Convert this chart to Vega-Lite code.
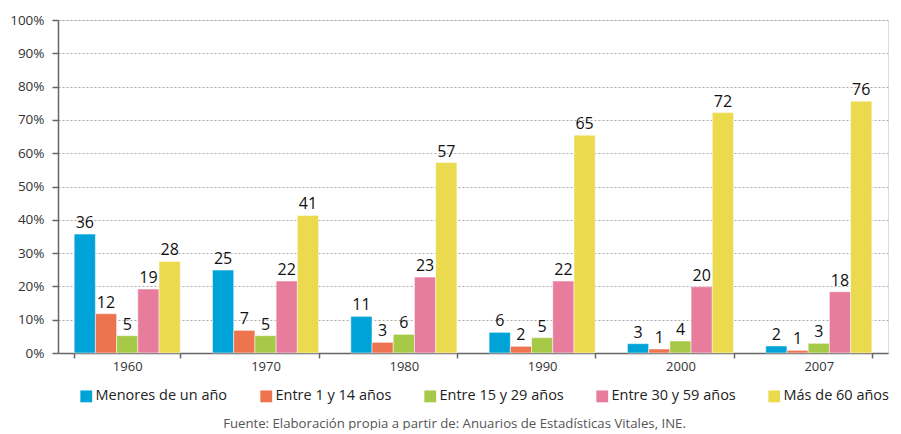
{
  "$schema": "https://vega.github.io/schema/vega-lite/v6.json",
  "width": 830,
  "height": 333,
  "autosize": {"type": "pad"},
  "padding": {"left": 9, "top": 13, "right": 0, "bottom": 0},
  "background": "white",
  "data": {
    "values": [
      {"year": "1960", "grupo": "Menores de un año", "valor": 35.7},
      {"year": "1960", "grupo": "Entre 1 y 14 años", "valor": 11.8},
      {"year": "1960", "grupo": "Entre 15 y 29 años", "valor": 5.2},
      {"year": "1960", "grupo": "Entre 30 y 59 años", "valor": 19.2},
      {"year": "1960", "grupo": "Más de 60 años", "valor": 27.5},
      {"year": "1970", "grupo": "Menores de un año", "valor": 24.9},
      {"year": "1970", "grupo": "Entre 1 y 14 años", "valor": 6.8},
      {"year": "1970", "grupo": "Entre 15 y 29 años", "valor": 5.2},
      {"year": "1970", "grupo": "Entre 30 y 59 años", "valor": 21.6},
      {"year": "1970", "grupo": "Más de 60 años", "valor": 41.3},
      {"year": "1980", "grupo": "Menores de un año", "valor": 11.0},
      {"year": "1980", "grupo": "Entre 1 y 14 años", "valor": 3.2},
      {"year": "1980", "grupo": "Entre 15 y 29 años", "valor": 5.6},
      {"year": "1980", "grupo": "Entre 30 y 59 años", "valor": 22.8},
      {"year": "1980", "grupo": "Más de 60 años", "valor": 57.2},
      {"year": "1990", "grupo": "Menores de un año", "valor": 6.2},
      {"year": "1990", "grupo": "Entre 1 y 14 años", "valor": 2.0},
      {"year": "1990", "grupo": "Entre 15 y 29 años", "valor": 4.6},
      {"year": "1990", "grupo": "Entre 30 y 59 años", "valor": 21.6},
      {"year": "1990", "grupo": "Más de 60 años", "valor": 65.4},
      {"year": "2000", "grupo": "Menores de un año", "valor": 2.8},
      {"year": "2000", "grupo": "Entre 1 y 14 años", "valor": 1.2},
      {"year": "2000", "grupo": "Entre 15 y 29 años", "valor": 3.6},
      {"year": "2000", "grupo": "Entre 30 y 59 años", "valor": 19.9},
      {"year": "2000", "grupo": "Más de 60 años", "valor": 72.2},
      {"year": "2007", "grupo": "Menores de un año", "valor": 2.1},
      {"year": "2007", "grupo": "Entre 1 y 14 años", "valor": 0.8},
      {"year": "2007", "grupo": "Entre 15 y 29 años", "valor": 2.9},
      {"year": "2007", "grupo": "Entre 30 y 59 años", "valor": 18.4},
      {"year": "2007", "grupo": "Más de 60 años", "valor": 75.6}
    ]
  },
  "encoding": {
    "x": {
      "field": "year",
      "type": "nominal",
      "scale": {"paddingInner": 0.233, "paddingOuter": 0.117},
      "axis": {
        "title": "Fuente: Elaboración propia a partir de: Anuarios de Estadísticas Vitales, INE.",
        "titleFont": "Open Sans",
        "titleFontSize": 13.2,
        "titleFontWeight": "normal",
        "titleColor": "#555555",
        "titlePadding": 44,
        "titleAlign": "center",
        "titleX": 396,
        "labelAngle": 0,
        "labelFont": "Open Sans",
        "labelFontSize": 13,
        "labelColor": "#333333",
        "labelPadding": 2,
        "domainColor": "#666666",
        "domainWidth": 1.5,
        "tickColor": "#666666",
        "tickWidth": 1.5,
        "tickSize": 5,
        "tickBand": "extent",
        "grid": false
      }
    },
    "xOffset": {
      "field": "grupo",
      "type": "nominal",
      "sort": ["Menores de un año", "Entre 1 y 14 años", "Entre 15 y 29 años", "Entre 30 y 59 años", "Más de 60 años"],
      "scale": {"paddingInner": 0, "paddingOuter": 0}
    },
    "y": {
      "field": "valor",
      "type": "quantitative",
      "scale": {"domain": [0, 100], "nice": false},
      "axis": {
        "title": null,
        "values": [0, 10, 20, 30, 40, 50, 60, 70, 80, 90, 100],
        "labelExpr": "datum.value + '%'",
        "labelFont": "Open Sans",
        "labelFontSize": 13.5,
        "labelColor": "#333333",
        "labelPadding": 8,
        "domainColor": "#666666",
        "domainWidth": 1.5,
        "tickColor": "#666666",
        "tickWidth": 1.5,
        "tickSize": 6,
        "grid": true,
        "gridColor": "#aaaaaa",
        "gridDash": [2, 2],
        "gridWidth": 1
      }
    }
  },
  "layer": [
    {
      "mark": {"type": "bar", "stroke": "white", "strokeWidth": 0.5},
      "encoding": {
        "color": {
          "field": "grupo",
          "type": "nominal",
          "sort": ["Menores de un año", "Entre 1 y 14 años", "Entre 15 y 29 años", "Entre 30 y 59 años", "Más de 60 años"],
          "scale": {
            "domain": ["Menores de un año", "Entre 1 y 14 años", "Entre 15 y 29 años", "Entre 30 y 59 años", "Más de 60 años"],
            "range": ["#00A3D7", "#EE7450", "#A6C947", "#E77C9C", "#EBD94E"]
          },
          "legend": {
            "title": null,
            "orient": "none",
            "legendX": 21,
            "legendY": 369,
            "direction": "horizontal",
            "symbolType": "square",
            "symbolSize": 140,
            "symbolStrokeWidth": 0,
            "symbolOpacity": 1,
            "labelFont": "Open Sans",
            "labelFontSize": 14.5,
            "labelColor": "#222222",
            "labelOffset": 2,
            "columnPadding": 31
          }
        }
      }
    },
    {
      "mark": {"type": "text", "baseline": "bottom", "dy": -3, "font": "Open Sans", "fontSize": 16, "fontWeight": 500, "color": "#111111"},
      "encoding": {
        "text": {"field": "valor", "type": "quantitative", "format": ".0f"}
      }
    }
  ]
}
